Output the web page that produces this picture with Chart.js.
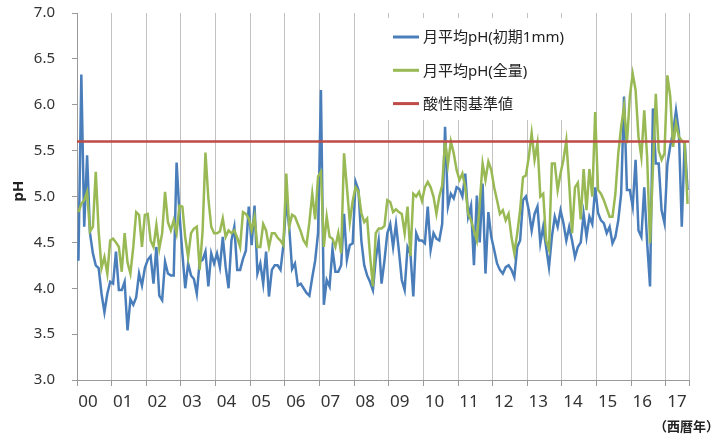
<!DOCTYPE html>
<html lang="ja">
<head>
<meta charset="utf-8">
<title>月平均pHの推移</title>
<script src="https://cdn.jsdelivr.net/npm/chart.js@4.4.1/dist/chart.umd.min.js"></script>
<style>
  html, body { margin: 0; padding: 0; background: #fff; }
  #wrap { width: 721px; height: 434px; }
</style>
</head>
<body>
<div id="wrap"><canvas id="phChart" width="721" height="434"></canvas></div>
<script>
// 年ラベル (西暦下2桁)
const yearLabels = ['00','01','02','03','04','05','06','07','08','09','10','11','12','13','14','15','16','17'];

// 月平均pH(初期1mm) 2000年1月〜2017年8月
const ph1mm = [
  4.30, 6.33, 4.67, 5.45, 4.60, 4.38, 4.25, 4.22, 3.94, 3.74, 3.94, 4.07, // 2000
  4.05, 4.40, 3.98, 3.98, 4.07, 3.54, 3.88, 3.82, 3.90, 4.16, 4.03, 4.22, // 2001
  4.31, 4.35, 4.05, 4.45, 3.92, 3.87, 4.29, 4.16, 4.14, 4.14, 5.37, 4.81, // 2002
  4.38, 4.00, 4.27, 4.14, 4.10, 3.94, 4.29, 4.31, 4.40, 4.02, 4.38, 4.27, // 2003
  4.38, 4.23, 4.56, 4.23, 4.00, 4.52, 4.67, 4.20, 4.20, 4.32, 4.41, 4.89, // 2004
  4.47, 4.90, 4.16, 4.27, 4.05, 4.40, 3.91, 4.20, 4.25, 4.25, 4.20, 4.47, // 2005
  4.96, 4.67, 4.21, 4.27, 4.03, 4.05, 4.00, 3.95, 3.92, 4.12, 4.30, 4.60, // 2006
  6.16, 3.82, 4.09, 4.02, 4.43, 4.18, 4.18, 4.25, 4.81, 4.31, 4.47, 4.49, // 2007
  5.16, 5.07, 4.52, 4.25, 4.14, 4.07, 3.98, 4.32, 4.52, 4.05, 4.30, 4.60, // 2008
  4.70, 4.45, 4.70, 4.41, 4.09, 3.98, 4.45, 4.38, 3.91, 4.60, 4.52, 4.52, // 2009
  4.49, 4.89, 4.42, 4.60, 4.54, 4.52, 4.70, 5.76, 4.89, 5.03, 4.98, 5.10, // 2010
  5.08, 5.00, 5.25, 4.78, 4.90, 4.25, 5.01, 4.50, 5.14, 4.16, 4.83, 4.56, // 2011
  4.42, 4.27, 4.20, 4.16, 4.23, 4.25, 4.20, 4.12, 4.45, 4.52, 4.96, 5.00, // 2012
  4.85, 4.63, 4.81, 4.89, 4.49, 4.67, 4.45, 4.23, 4.56, 4.78, 4.67, 4.85, // 2013
  4.71, 4.52, 4.67, 4.52, 4.34, 4.45, 4.50, 4.81, 4.56, 4.78, 4.70, 5.10, // 2014
  4.82, 4.74, 4.71, 4.60, 4.67, 4.49, 4.56, 4.74, 5.03, 6.09, 5.07, 5.07, // 2015
  4.89, 5.40, 4.63, 4.56, 5.10, 4.50, 4.02, 5.96, 5.36, 5.36, 4.85, 4.71, // 2016
  5.35, 5.55, 5.70, 5.94, 5.70, 4.67, 5.60, 5.07                          // 2017
];

// 月平均pH(全量)
const phTotal = [
  4.83, 4.92, 4.96, 5.05, 4.62, 4.67, 5.27, 4.62, 4.22, 4.34, 4.16, 4.52, // 2000
  4.54, 4.50, 4.45, 4.18, 4.60, 4.28, 4.16, 4.45, 4.83, 4.80, 4.45, 4.80, // 2001
  4.81, 4.52, 4.45, 4.69, 4.43, 4.60, 5.05, 4.72, 4.63, 4.74, 4.60, 4.90, // 2002
  4.89, 4.55, 4.34, 4.60, 4.65, 4.67, 4.20, 4.62, 5.48, 4.98, 4.67, 4.60, // 2003
  4.60, 4.62, 4.76, 4.56, 4.63, 4.60, 4.63, 4.55, 4.45, 4.83, 4.81, 4.76, // 2004
  4.63, 4.78, 4.45, 4.45, 4.70, 4.63, 4.45, 4.60, 4.60, 4.55, 4.52, 4.47, // 2005
  5.25, 4.67, 4.80, 4.78, 4.70, 4.62, 4.52, 4.47, 4.72, 5.03, 4.75, 5.22, // 2006
  5.27, 4.45, 4.78, 4.56, 4.54, 4.45, 4.60, 4.38, 5.47, 5.10, 4.72, 4.95, // 2007
  5.10, 5.05, 4.82, 4.72, 4.76, 4.36, 4.02, 4.60, 4.65, 4.65, 4.68, 4.96, // 2008
  4.94, 4.83, 4.86, 4.83, 4.81, 4.60, 4.89, 4.35, 5.03, 5.00, 5.05, 4.95, // 2009
  5.10, 5.16, 5.10, 5.00, 4.81, 5.00, 5.12, 5.61, 5.35, 5.60, 5.47, 5.29, // 2010
  5.18, 5.25, 5.10, 4.81, 4.74, 4.63, 4.52, 4.92, 5.36, 5.18, 5.38, 5.29, // 2011
  5.10, 4.96, 4.81, 4.85, 4.74, 4.81, 4.56, 4.38, 4.60, 4.85, 5.21, 5.23, // 2012
  5.43, 5.69, 5.40, 5.58, 5.00, 5.03, 4.52, 4.42, 5.36, 5.36, 5.07, 5.25, // 2013
  5.40, 5.61, 5.14, 4.60, 5.10, 5.15, 4.75, 5.30, 4.85, 5.30, 5.00, 5.92, // 2014
  5.07, 5.03, 4.96, 4.87, 4.78, 4.78, 5.03, 5.47, 5.76, 5.98, 5.58, 6.09, // 2015
  6.34, 6.16, 5.65, 5.43, 5.94, 5.43, 4.49, 5.30, 6.12, 5.50, 5.40, 5.47, // 2016
  6.32, 6.09, 5.54, 5.80, 5.65, 5.61, 5.58, 4.92                          // 2017
];

// 酸性雨基準値
const acidRainPH = 5.6;

const FONT = '"Noto Sans", "Noto Sans CJK JP", sans-serif';
const lastIndex = ph1mm.length - 1;

// 年の区切り (グリッド線の位置)
const yearBounds = yearLabels.map((_, k) => k * 12 - 0.5);

// 凡例と軸タイトル (Excel風に中に置く)
const extraText = {
  id: 'extraText',
  beforeDatasetsDraw(chart) {
    const ctx = chart.ctx;
    ctx.save();
    ctx.fillStyle = '#fff';
    ctx.fillRect(380, 18, 198, 102);
    chart.data.datasets.forEach((ds, i) => {
      const y = 37 + i * 33.3;
      ctx.strokeStyle = ds.borderColor;
      ctx.lineWidth = 3;
      ctx.beginPath();
      ctx.moveTo(393, y);
      ctx.lineTo(419, y);
      ctx.stroke();
      ctx.fillStyle = '#222';
      ctx.font = '15px ' + FONT;
      ctx.textBaseline = 'middle';
      ctx.textAlign = 'left';
      ctx.fillText(ds.label, 423, y + 1);
    });
    ctx.restore();
  },
  afterDraw(chart) {
    const ctx = chart.ctx;
    ctx.save();
    ctx.fillStyle = '#222';
    // pH (縦)
    ctx.translate(19, 191);
    ctx.rotate(-Math.PI / 2);
    ctx.font = 'bold 15px ' + FONT;
    ctx.textAlign = 'center';
    ctx.textBaseline = 'middle';
    ctx.fillText('pH', 0, 0);
    ctx.restore();

    ctx.save();
    ctx.fillStyle = '#222';
    ctx.font = 'bold 13px ' + FONT;
    ctx.textAlign = 'right';
    ctx.textBaseline = 'middle';
    ctx.fillText('（西暦年）', 719, 427);
    ctx.restore();
  }
};

const ctx1 = document.getElementById('phChart').getContext('2d');
new Chart(ctx1, {
  type: 'line',
  data: {
    datasets: [
      {
        label: '月平均pH(初期1mm)',
        data: ph1mm.map((v, i) => ({ x: i, y: v })),
        borderColor: '#4A7EBB',
        borderWidth: 2.5,
        pointRadius: 0,
        tension: 0,
        order: 2
      },
      {
        label: '月平均pH(全量)',
        data: phTotal.map((v, i) => ({ x: i, y: v })),
        borderColor: '#98B954',
        borderWidth: 2.5,
        pointRadius: 0,
        tension: 0,
        order: 1
      },
      {
        label: '酸性雨基準値',
        data: [{ x: -0.5, y: acidRainPH }, { x: lastIndex + 0.5, y: acidRainPH }],
        borderColor: '#BE4B48',
        borderWidth: 2.5,
        pointRadius: 0,
        order: 0
      }
    ]
  },
  options: {
    responsive: false,
    animation: false,
    layout: { padding: { top: 13, right: 32, left: 0, bottom: 0 } },
    scales: {
      x: {
        type: 'linear',
        min: -0.5,
        max: lastIndex + 0.5,
        afterBuildTicks: function(scale) {
          scale.ticks = yearBounds.map(v => ({ value: v })).concat([{ value: lastIndex + 0.5 }]);
        },
        afterFit: function(scale) {
          scale.height = 54;
          scale.paddingLeft = 0;
          scale.paddingRight = 0;
        },
        ticks: {
          autoSkip: false,
          maxRotation: 0,
          labelOffset: 11,
          padding: 6,
          color: '#333',
          font: { family: FONT, size: 17 },
          callback: function(value, index) {
            return yearLabels[index] || '';
          }
        },
        grid: {
          color: '#c2c2c2',
          tickColor: '#9a9a9a',
          tickLength: 6,
          lineWidth: 1
        },
        border: { color: '#9a9a9a' }
      },
      y: {
        min: 3,
        max: 7,
        afterFit: function(scale) {
          scale.width = 77;
          scale.paddingTop = 0;
          scale.paddingBottom = 0;
        },
        ticks: {
          stepSize: 0.5,
          padding: 17,
          color: '#333',
          font: { family: FONT, size: 15 },
          callback: function(value) { return value.toFixed(1); }
        },
        grid: {
          drawOnChartArea: false,
          tickLength: 5,
          color: '#9a9a9a'
        },
        border: { color: '#9a9a9a' }
      }
    },
    plugins: {
      legend: { display: false },
      tooltip: { enabled: false }
    }
  },
  plugins: [extraText]
});
</script>
</body>
</html>
